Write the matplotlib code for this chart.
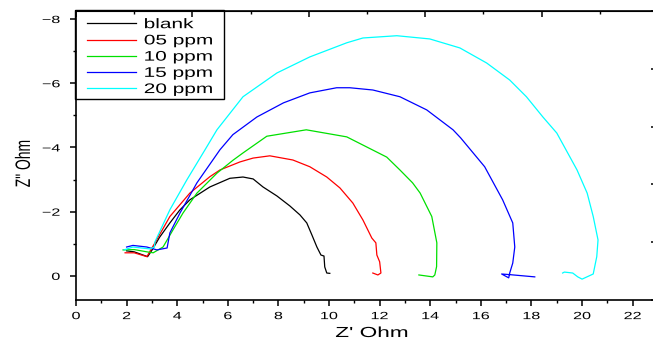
import matplotlib
matplotlib.use("Agg")
import matplotlib.pyplot as plt
from matplotlib.ticker import MultipleLocator
from matplotlib.patheffects import AbstractPathEffect
from matplotlib.transforms import Affine2D
from matplotlib.patches import Rectangle

plt.rcParams['font.family'] = ['Liberation Sans', 'DejaVu Sans']

# Nyquist data (Z' in Ohm, Z'' in Ohm)
blank_x = [2.0, 2.3, 2.83, 3.0, 3.3, 3.71, 4.1, 4.5, 5.29, 6.08, 6.6, 7.0, 7.39, 7.94, 8.45, 8.85, 9.12, 9.32, 9.52, 9.68, 9.8, 9.83, 9.91, 10.03]
blank_z = [-0.78, -0.75, -0.6, -0.8, -1.2, -1.65, -2.05, -2.37, -2.77, -3.04, -3.08, -3.02, -2.77, -2.49, -2.18, -1.9, -1.65, -1.28, -0.9, -0.65, -0.62, -0.28, -0.09, -0.08]

ppm05_x = [1.94, 2.3, 2.8, 3.0, 3.12, 3.71, 4.5, 5.29, 5.69, 6.48, 7.0, 7.66, 8.57, 9.24, 9.91, 10.43, 10.94, 11.34, 11.69, 11.85, 11.89, 12.0, 12.05, 11.93, 11.73]
ppm05_z = [-0.72, -0.72, -0.6, -0.87, -1.03, -1.85, -2.58, -3.09, -3.3, -3.55, -3.67, -3.74, -3.61, -3.4, -3.08, -2.74, -2.27, -1.74, -1.18, -1.03, -0.65, -0.44, -0.09, -0.03, -0.09]

ppm10_x = [1.86, 2.3, 2.8, 3.05, 3.44, 3.83, 4.23, 4.78, 5.57, 6.2, 6.6, 7.54, 9.1, 10.7, 12.28, 12.8, 13.3, 13.6, 14.06, 14.26, 14.25, 14.18, 14.1, 13.55]
ppm10_z = [-0.81, -0.82, -0.75, -0.72, -0.9, -1.43, -1.96, -2.58, -3.2, -3.6, -3.83, -4.35, -4.55, -4.33, -3.7, -3.3, -2.9, -2.58, -1.85, -1.03, -0.29, -0.03, 0.03, -0.03]

ppm15_x = [2.0, 2.25, 2.8, 3.2, 3.6, 3.71, 4.11, 4.78, 5.69, 6.2, 7.15, 8.2, 9.24, 10.3, 10.82, 11.73, 12.8, 13.86, 14.9, 15.2, 16.15, 16.86, 17.26, 17.34, 17.26, 17.14, 17.1, 16.82, 17.14, 18.13]
ppm15_z = [-0.9, -0.95, -0.9, -0.81, -0.87, -1.34, -1.96, -2.9, -3.93, -4.4, -4.95, -5.39, -5.7, -5.86, -5.86, -5.79, -5.58, -5.17, -4.55, -4.3, -3.4, -2.37, -1.65, -0.9, -0.4, -0.09, 0.06, -0.06, -0.04, 0.03]

ppm20_x = [1.9, 2.25, 2.92, 3.1, 3.12, 3.71, 4.38, 5.1, 5.57, 6.6, 7.94, 9.24, 10.7, 11.34, 12.68, 13.98, 15.17, 16.23, 17.14, 17.8, 18.45, 19.0, 19.8, 20.2, 20.44, 20.63, 20.58, 20.44, 20.0, 19.83, 19.63, 19.3, 19.23]
ppm20_z = [-0.81, -0.9, -0.84, -0.9, -1.06, -2.06, -2.99, -3.93, -4.55, -5.58, -6.32, -6.82, -7.26, -7.41, -7.48, -7.38, -7.1, -6.63, -6.1, -5.58, -4.95, -4.45, -3.3, -2.58, -1.85, -1.12, -0.6, -0.06, 0.1, 0.03, -0.09, -0.12, -0.09]

series = [
    (blank_x, blank_z, 'black', 'blank'),
    (ppm05_x, ppm05_z, '#ff0000', '05 ppm'),
    (ppm10_x, ppm10_z, '#00e000', '10 ppm'),
    (ppm15_x, ppm15_z, '#0000ff', '15 ppm'),
    (ppm20_x, ppm20_z, '#00ffff', '20 ppm'),
]


class Stretch(AbstractPathEffect):
    # the original picture is squashed sideways, so widen glyphs in x
    def __init__(self, sx=1.5, anchor=0.5):
        super().__init__()
        self.sx = sx
        self.anchor = anchor

    def draw_path(self, renderer, gc, tpath, affine, rgbFace=None):
        ext = tpath.get_extents(affine)
        cx = ext.x0 + self.anchor * ext.width
        st = Affine2D().translate(-cx, 0).scale(self.sx, 1).translate(cx, 0)
        renderer.draw_path(gc, tpath, affine + st, rgbFace)


fig = plt.figure(figsize=(6.53, 3.41), dpi=100)
# right edge of the frame falls just outside the picture, as in the original
ax = fig.add_axes([76 / 653, 41 / 341, 582 / 653, 289 / 341])

for x, z, col, lab in series:
    ax.plot(x, z, color=col, lw=0.9, label=lab)

ax.set_xlim(0, 23)
ax.set_ylim(0.75, -8.25)

ax.xaxis.set_major_locator(MultipleLocator(2))
ax.xaxis.set_minor_locator(MultipleLocator(1))
ax.yaxis.set_major_locator(MultipleLocator(2))
ax.yaxis.set_minor_locator(MultipleLocator(1))

ax.tick_params(axis='x', which='major', direction='out', length=4.5, width=1.1, labelsize=7.5, pad=3.5)
ax.tick_params(axis='y', which='major', direction='out', length=4.5, width=1.1, labelsize=7.5, pad=7)
ax.tick_params(axis='both', which='minor', direction='out', length=2.5, width=1.0)
ax.tick_params(top=False, right=False)
for s in ax.spines.values():
    s.set_linewidth(1.2)

# top and right axes carry their own even tick spacing, ticks pointing inward
top = ax.secondary_xaxis('top', functions=(lambda v: v / 23, lambda f: f * 23))
top.xaxis.set_major_locator(MultipleLocator(0.2))
top.xaxis.set_minor_locator(MultipleLocator(0.1))
top.tick_params(which='major', direction='in', length=4, width=1.1, labeltop=False)
top.tick_params(which='minor', direction='in', length=2, width=1.0)
right = ax.secondary_yaxis('right', functions=(lambda v: (0.75 - v) / 9, lambda f: 0.75 - 9 * f))
right.yaxis.set_major_locator(MultipleLocator(0.2))
right.yaxis.set_minor_locator(MultipleLocator(1.0))
right.tick_params(which='major', direction='in', length=5, width=1.1, labelright=False)

ax.set_xlabel("Z' Ohm", fontsize=10.5)
ax.set_ylabel('Z" Ohm', fontsize=10)
ax.xaxis.set_label_coords(296 / 582, -0.09)
ax.yaxis.set_label_coords(-43 / 582, 0.472)
ax.xaxis.label.set_path_effects([Stretch(1.55, 0.5)])
ax.yaxis.label.set_path_effects([Stretch(1.5, 1.0)])

for t in ax.xaxis.get_major_ticks():
    t.label1.set_path_effects([Stretch(1.55, 0.5)])
for t in ax.yaxis.get_major_ticks():
    t.label1.set_path_effects([Stretch(1.55, 1.0)])

leg = ax.legend(loc='upper left', bbox_to_anchor=(83 / 653, 328 / 341), bbox_transform=fig.transFigure,
                borderaxespad=0, fontsize=10, handlelength=3.5, handletextpad=0.6,
                labelspacing=0.16, borderpad=0.3, frameon=False)
for t in leg.get_texts():
    t.set_path_effects([Stretch(1.5, 0.0)])
fig.add_artist(Rectangle((75 / 653, 1 - 99 / 341), 149 / 653, 89 / 341, transform=fig.transFigure,
                         fill=False, edgecolor='black', lw=1.0))

fig.savefig('out.png', dpi=100)
